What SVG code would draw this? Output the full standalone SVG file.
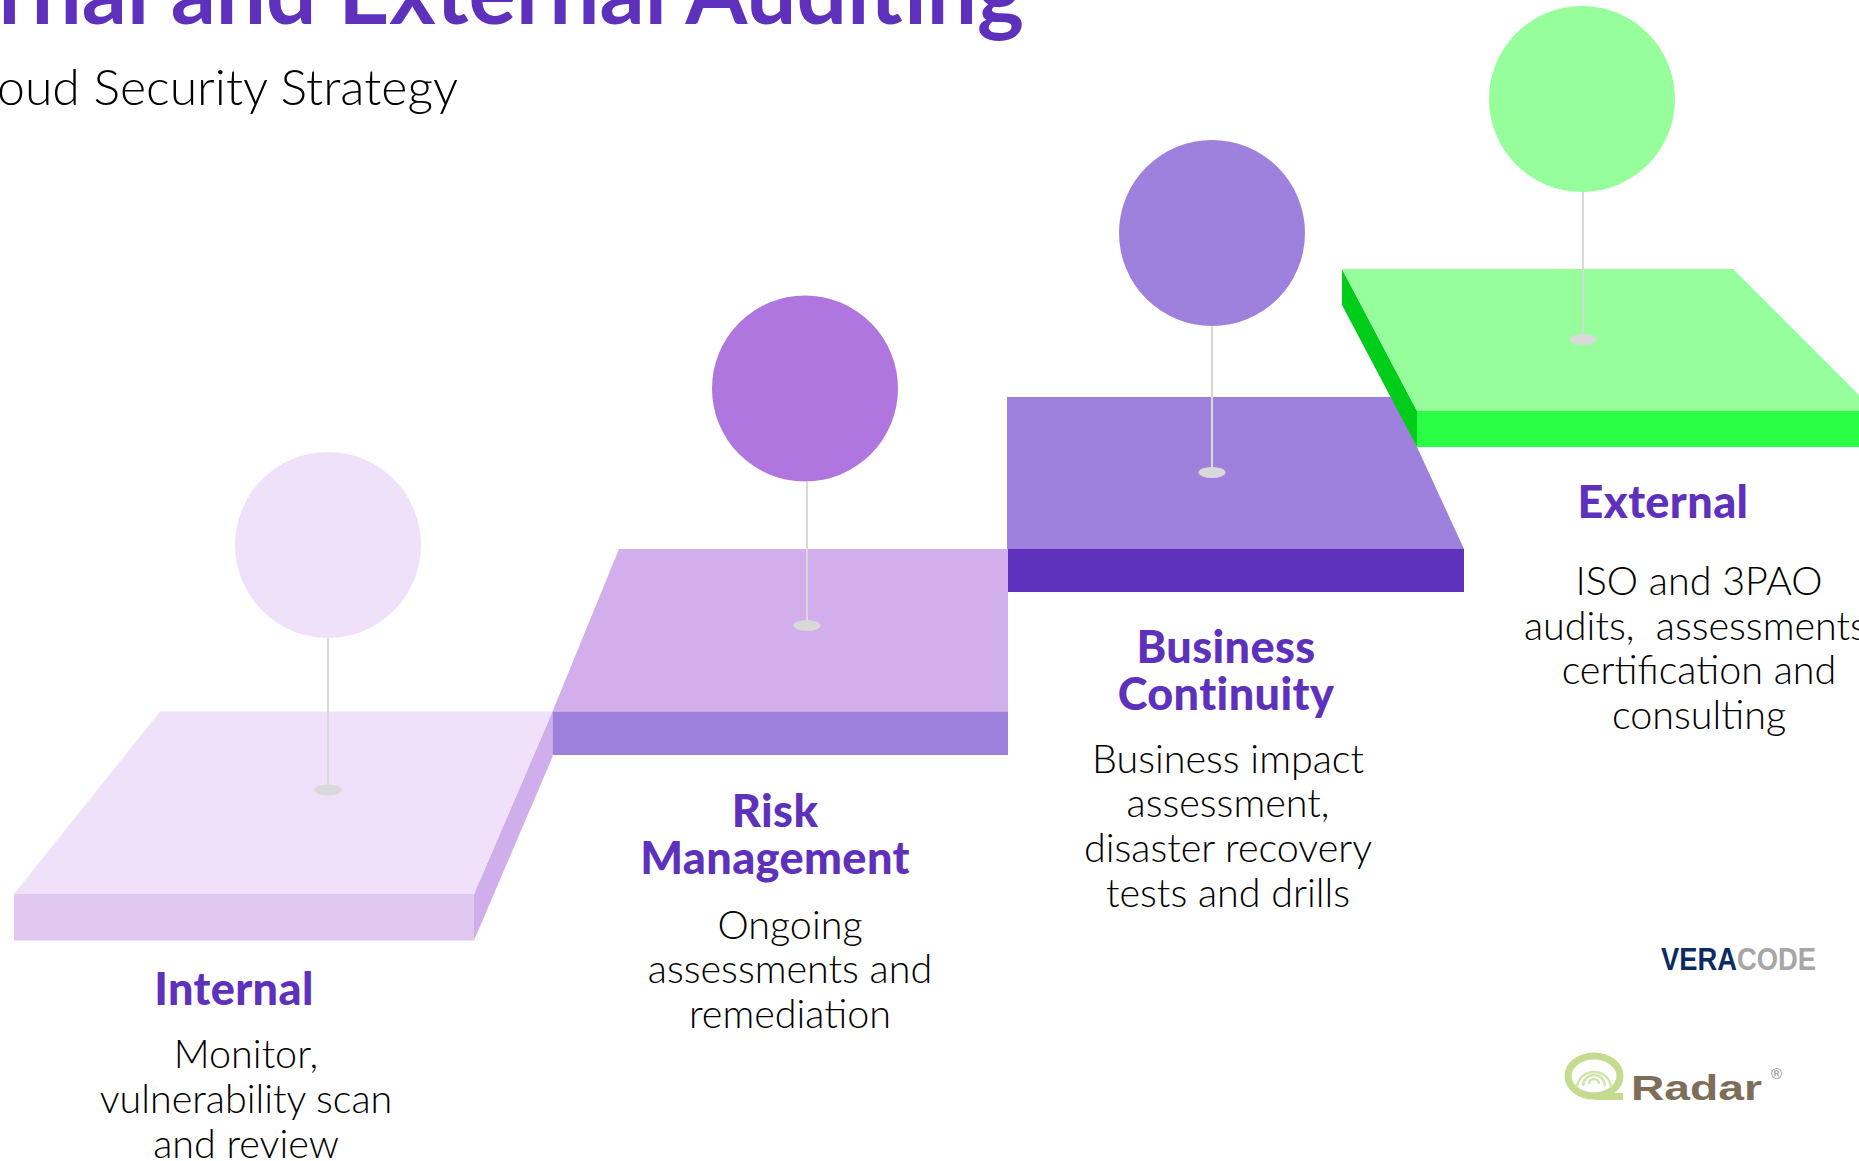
<svg xmlns="http://www.w3.org/2000/svg" width="1859" height="1161" viewBox="0 0 1859 1161">
<style>
text{font-family:"Lato","Noto Sans",sans-serif}
.h{font-size:45px;font-weight:900;fill:#5E31BC;text-anchor:middle;letter-spacing:.4px}
.b{font-size:39.5px;font-weight:300;fill:#000;text-anchor:middle}
.pin{fill:#D9D9D9}
.logo{font-family:"Liberation Sans",sans-serif}
</style>
<rect width="1859" height="1161" fill="#fff"/>
<text id="title" x="1024" y="24" text-anchor="end" font-size="89" font-weight="700" fill="#5E31BC">rnal and External Auditing</text>
<text id="subtitle" x="458" y="105" text-anchor="end" font-size="50" font-weight="300" fill="#000">oud Security Strategy</text>
<g id="step-internal">
<polygon points="474,894 552.5,711.5 552.5,757 474,940.5" fill="#D0ADEB"/>
<polygon points="160,711.5 552.5,711.5 474,894 14,894" fill="#EEE1F9"/>
<rect x="14" y="894" width="460" height="46.5" fill="#E0C8F0"/>
<circle cx="328" cy="545" r="93" fill="#EEE1F9"/>
<rect class="pin" x="327" y="638" width="2" height="152"/>
<ellipse class="pin" cx="328" cy="790" rx="13.5" ry="5.5"/>
<text class="h" x="234" y="1005">Internal</text>
<text class="b" x="246" y="1068">Monitor,</text>
<text class="b" x="246" y="1113">vulnerability scan</text>
<text class="b" x="246" y="1158">and review</text>
</g>
<g id="step-risk">
<polygon points="619,549 1008,549 1008,711.5 552.5,711.5" fill="#D2AEEC"/>
<rect x="552.5" y="711.5" width="455.5" height="43.5" fill="#9E80DD"/>
<circle cx="805" cy="388.5" r="93" fill="#B076E0"/>
<rect class="pin" x="806" y="481" width="2" height="144"/>
<ellipse class="pin" cx="807" cy="625.5" rx="13.5" ry="5.5"/>
<text class="h" x="775" y="827"><tspan x="775">Risk</tspan><tspan x="775" dy="47">Management</tspan></text>
<text class="b" x="790" y="939">Ongoing</text>
<text class="b" x="790" y="983">assessments and</text>
<text class="b" x="790" y="1028">remediation</text>
</g>
<g id="step-continuity">
<polygon points="1007,397 1394,397 1464,549 1007,549" fill="#9E80DD"/>
<rect x="1008" y="549" width="456" height="43" fill="#5E31BC"/>
<circle cx="1212" cy="233" r="93" fill="#9E80DD"/>
<rect class="pin" x="1211" y="326" width="2" height="146"/>
<ellipse class="pin" cx="1212" cy="472.5" rx="13.5" ry="5.5"/>
<text class="h" x="1226" y="663"><tspan x="1226">Business</tspan><tspan x="1226" dy="47">Continuity</tspan></text>
<text class="b" x="1228" y="773">Business impact</text>
<text class="b" x="1228" y="817">assessment,</text>
<text class="b" x="1228" y="862">disaster recovery</text>
<text class="b" x="1228" y="907">tests and drills</text>
</g>
<g id="step-external">
<polygon points="1342,269 1417,411 1417,447 1342,305" fill="#00CC1A"/>
<polygon points="1342,269 1733,269 1875,411 1417,411" fill="#96FF9C"/>
<rect x="1417" y="411" width="442" height="36" fill="#2BFF45"/>
<circle cx="1582" cy="99" r="93" fill="#96FF9C"/>
<rect class="pin" x="1582" y="192" width="2" height="147"/>
<ellipse class="pin" cx="1583" cy="339.5" rx="13.5" ry="5.5"/>
<text class="h" x="1663" y="518">External</text>
<text class="b" x="1699" y="595">ISO and 3PAO</text>
<text class="b" x="1524" y="640" style="text-anchor:start;white-space:pre">audits,  assessments</text>
<text class="b" x="1699" y="684">certification and</text>
<text class="b" x="1699" y="729">consulting</text>
</g>
<g id="logo-veracode">
<text class="logo" x="1661" y="970" font-size="32" font-weight="700" textLength="155" lengthAdjust="spacingAndGlyphs"><tspan fill="#0B2C63">VERA</tspan><tspan fill="#A6A6A6">CODE</tspan></text>
</g>
<g id="logo-radar">
<ellipse cx="1594" cy="1076" rx="26" ry="20" fill="none" stroke="#C5DB8F" stroke-width="7"/>
<polygon points="1598,1093 1623,1093 1623,1100 1594,1100" fill="#C5DB8F"/>
<path d="M1577 1088 A17 16 0 0 1 1611 1088 M1583 1086 A11 11 0 0 1 1605 1086 M1589 1084 A5 5 0 0 1 1599 1084" fill="none" stroke="#D3E4AC" stroke-width="2.5"/>
<text class="logo" x="1631" y="1100" font-size="35" font-weight="700" fill="#7E6D59" textLength="131" lengthAdjust="spacingAndGlyphs">Radar</text>
<text class="logo" x="1771" y="1079" font-size="15" fill="#8a8a8a">®</text>
</g>
</svg>
